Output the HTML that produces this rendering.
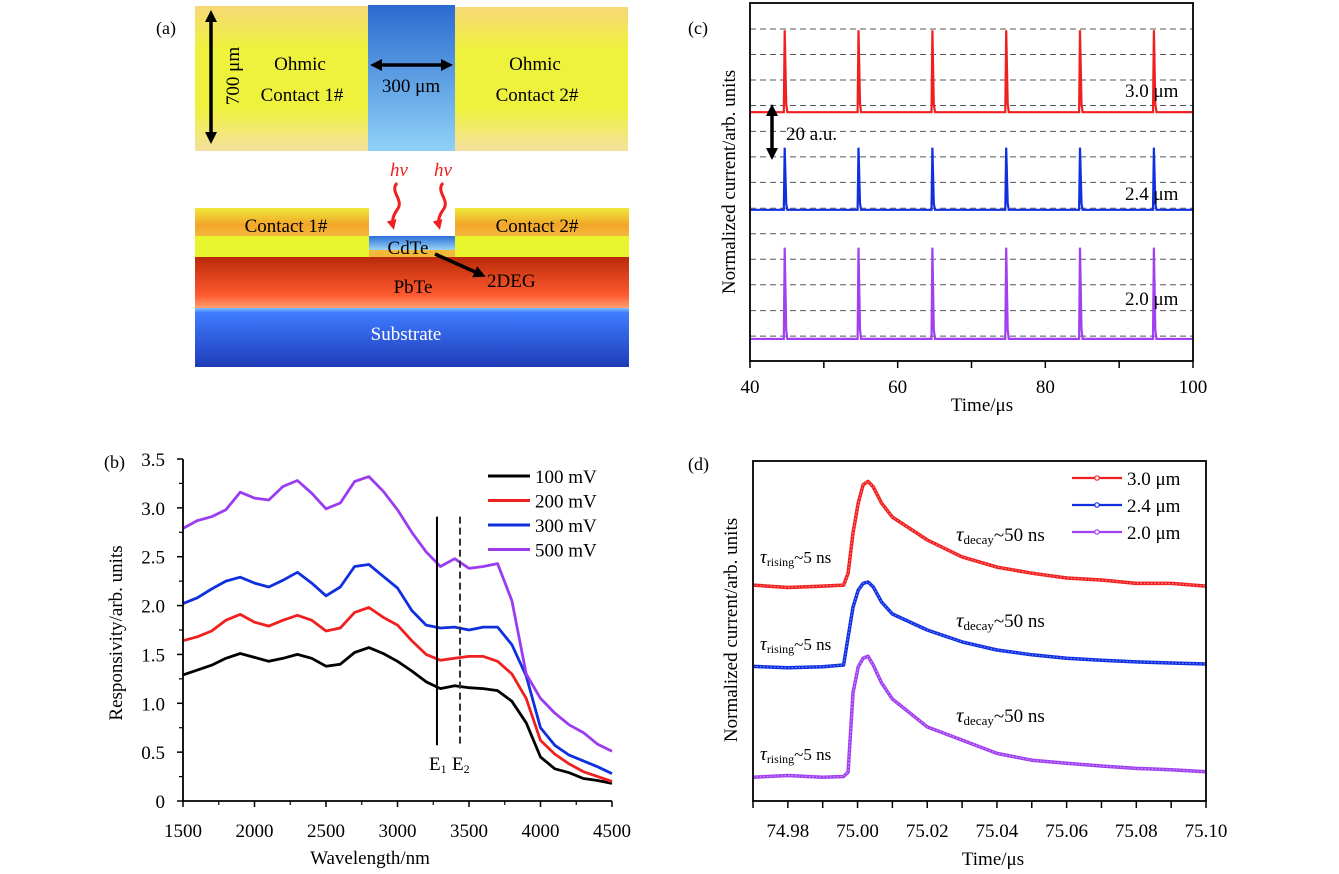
<!DOCTYPE html>
<html><head><meta charset="utf-8"><style>
body{margin:0;background:#fff;}
svg{display:block;font-family:"Liberation Serif",serif;}
</style></head><body>
<svg id="fig" width="1339" height="874" viewBox="0 0 1339 874">
<defs>
<linearGradient id="gY" x1="0" y1="0" x2="0" y2="1"><stop offset="0" stop-color="#f6d878"/><stop offset="0.3" stop-color="#eef23c"/><stop offset="0.7" stop-color="#eef23c"/><stop offset="1" stop-color="#f4e0a0"/></linearGradient>
<linearGradient id="gB" x1="0" y1="0" x2="0" y2="1"><stop offset="0" stop-color="#2a6ad0"/><stop offset="1" stop-color="#90d2f6"/></linearGradient>
<linearGradient id="gC" x1="0" y1="0" x2="0" y2="1"><stop offset="0" stop-color="#eee83a"/><stop offset="0.6" stop-color="#f2a628"/><stop offset="1" stop-color="#f5b840"/></linearGradient>
<linearGradient id="gCd" x1="0" y1="0" x2="0" y2="1"><stop offset="0" stop-color="#2a70d8"/><stop offset="1" stop-color="#9ad4f6"/></linearGradient>
<linearGradient id="gP" x1="0" y1="0" x2="0" y2="1"><stop offset="0" stop-color="#b82a08"/><stop offset="0.75" stop-color="#ff5a30"/><stop offset="1" stop-color="#ffa070"/></linearGradient>
<linearGradient id="gS" x1="0" y1="0" x2="0" y2="1"><stop offset="0" stop-color="#80c0ff"/><stop offset="0.08" stop-color="#3f7cff"/><stop offset="1" stop-color="#1e3cb8"/></linearGradient>
<marker id="ah" markerWidth="12" markerHeight="12" refX="8" refY="6" orient="auto-start-reverse" markerUnits="userSpaceOnUse"><path d="M0,0 L12,6 L0,12 z" fill="#000"/></marker>
<marker id="ahr" markerWidth="10" markerHeight="10" refX="6" refY="5" orient="auto" markerUnits="userSpaceOnUse"><path d="M0,0 L10,5 L0,10 z" fill="#f02020"/></marker>
</defs>

<g font-size="19">
<text x="156" y="34" font-size="18">(a)</text>
<rect x="195" y="6" width="173" height="145" fill="url(#gY)"/>
<rect x="368" y="5" width="87" height="146" fill="url(#gB)"/>
<rect x="455" y="7" width="173" height="144" fill="url(#gY)"/>
<line x1="211" y1="14" x2="211" y2="140" stroke="#000" stroke-width="3.5" marker-start="url(#ah)" marker-end="url(#ah)"/>
<text transform="translate(239,76) rotate(-90)" text-anchor="middle">700 μm</text>
<text x="300" y="70" text-anchor="middle">Ohmic</text>
<text x="302" y="101" text-anchor="middle">Contact 1#</text>
<text x="535" y="70" text-anchor="middle">Ohmic</text>
<text x="537" y="101" text-anchor="middle">Contact 2#</text>
<line x1="374" y1="65" x2="449" y2="65" stroke="#000" stroke-width="3.5" marker-start="url(#ah)" marker-end="url(#ah)"/>
<text x="411" y="92" text-anchor="middle">300 μm</text>

<text x="399" y="176" fill="#f02020" font-style="italic" text-anchor="middle">hv</text>
<text x="443" y="176" fill="#f02020" font-style="italic" text-anchor="middle">hv</text>
<path d="M397,183 C389,192 405,200 397,210 C392,217 392,222 393,226" fill="none" stroke="#f02020" stroke-width="3" marker-end="url(#ahr)"/>
<path d="M443,183 C435,192 451,200 443,210 C438,217 438,222 439,226" fill="none" stroke="#f02020" stroke-width="3" marker-end="url(#ahr)"/>

<rect x="195" y="208" width="174" height="28" fill="url(#gC)"/>
<rect x="455" y="208" width="174" height="28" fill="url(#gC)"/>
<rect x="195" y="236" width="434" height="21" fill="#e8f52c"/>
<rect x="369" y="236" width="86" height="14" fill="url(#gCd)"/>
<rect x="369" y="250" width="86" height="7" fill="#f2b83a"/>
<rect x="195" y="257" width="434" height="51" fill="url(#gP)"/>
<rect x="195" y="308" width="434" height="59" fill="url(#gS)"/>
<text x="286" y="232" text-anchor="middle">Contact 1#</text>
<text x="537" y="232" text-anchor="middle">Contact 2#</text>
<text x="408" y="254" text-anchor="middle">CdTe</text>
<text x="413" y="293" text-anchor="middle">PbTe</text>
<text x="487" y="287">2DEG</text>
<line x1="435" y1="254" x2="482" y2="275" stroke="#000" stroke-width="3.5" marker-end="url(#ah)"/>
<text x="406" y="340" text-anchor="middle" fill="#fff">Substrate</text>
</g>

<g id="pb"></g>
<g id="pc"></g>
<g id="pd"></g>
</svg>
<script>
const bWave=[1500,1600,1700,1800,1900,2000,2100,2200,2300,2400,2500,2600,2700,2800,2900,3000,3100,3200,3300,3400,3500,3600,3700,3800,3900,4000,4100,4200,4300,4400,4500];
const b100=[1.29,1.34,1.39,1.46,1.51,1.47,1.43,1.46,1.50,1.46,1.38,1.40,1.52,1.57,1.51,1.43,1.33,1.22,1.15,1.18,1.16,1.15,1.13,1.02,0.80,0.45,0.33,0.29,0.23,0.21,0.18];
const b200=[1.64,1.68,1.74,1.85,1.91,1.83,1.79,1.85,1.90,1.85,1.74,1.77,1.93,1.98,1.88,1.80,1.64,1.50,1.44,1.46,1.48,1.48,1.43,1.30,1.05,0.62,0.48,0.38,0.30,0.25,0.20];
const b300=[2.02,2.08,2.17,2.25,2.29,2.23,2.19,2.26,2.34,2.23,2.10,2.19,2.40,2.42,2.30,2.18,1.95,1.80,1.77,1.78,1.75,1.78,1.78,1.60,1.28,0.75,0.57,0.47,0.41,0.35,0.28];
const b500=[2.79,2.87,2.91,2.98,3.16,3.10,3.08,3.22,3.28,3.15,2.99,3.05,3.27,3.32,3.17,2.98,2.75,2.55,2.40,2.48,2.38,2.40,2.43,2.05,1.30,1.05,0.90,0.78,0.70,0.58,0.51];
const bLabels=["100 mV","200 mV","300 mV","500 mV"];
const bXTicks=[1500,2000,2500,3000,3500,4000,4500];
const bYTicks=[0,0.5,1.0,1.5,2.0,2.5,3.0,3.5];
const bE=[3276,3437];
const cPeakTimes=[44.7,54.7,64.7,74.7,84.7,94.7];
const cBaselines=[79,48,7];
const cHeights=[26,19.7,29];
const cLabels=["3.0 μm","2.4 μm","2.0 μm"];
const cGrid=[7.9,16.0,24.2,32.3,40.4,48.5,56.7,64.8,72.9,81.1,89.2,97.3,105.4];
const cXTicks=[40,60,80,100];
const dTime=[74.97,74.98,74.99,74.996,74.9973,74.9987,75.0002,75.0016,75.003,75.0045,75.0069,75.01,75.02,75.03,75.04,75.05,75.06,75.07,75.08,75.09,75.10];
const d30=[63.5,62.8,63.2,63.5,67,78.8,87.6,93,94,92.4,87.6,83.5,76.8,71.8,68.8,67,65.6,65,64,64,63.2];
const d24=[39.6,39.2,39.5,40,48.2,57,62,64,64.4,63,58.5,55,50.3,46.8,44.4,43,42,41.4,40.9,40.6,40.3];
const d20=[7,7.5,7,7.2,8.5,31.8,39.4,42,42.6,40,34.7,30,21.8,17.9,14,12,11.1,10.3,9.6,9.2,8.6];
const dLabels=["3.0 μm","2.4 μm","2.0 μm"];
const dXTicks=[74.98,75.00,75.02,75.04,75.06,75.08,75.10];

const FS=19;
const NS="http://www.w3.org/2000/svg";
function mk(parent,tag,attrs,text){const e=document.createElementNS(NS,tag);for(const k in attrs)e.setAttribute(k,attrs[k]);if(text!==undefined)e.textContent=text;parent.appendChild(e);return e;}
function lin(d0,d1,r0,r1){return v=>r0+(v-d0)/(d1-d0)*(r1-r0);}

(function(){
const g=document.getElementById('pb');
const L=183,R=612,T=459,B=801;
const x=lin(1500,4500,L,R), y=lin(0,3.5,B,T);
const cols=["#000000","#f02020","#1030e0","#9b3cf0"];
const ser=[b100,b200,b300,b500];
ser.forEach((s,i)=>{
 let d=s.map((v,j)=>(j?'L':'M')+x(bWave[j]).toFixed(1)+','+y(v).toFixed(1)).join(' ');
 const p=mk(g,'path',{d:d,fill:'none',stroke:cols[i],'stroke-width':2.8,'stroke-linejoin':'round'});
 
 
});
const e1=mk(g,'line',{x1:x(bE[0]),x2:x(bE[0]),y1:y(2.91),y2:y(0.57),stroke:'#000','stroke-width':2});


const e2=mk(g,'line',{x1:x(bE[1]),x2:x(bE[1]),y1:y(2.91),y2:y(0.57),stroke:'#333','stroke-width':2,'stroke-dasharray':'7,4'});


const t1=mk(g,'text',{x:x(bE[0])-8,y:770,'font-size':FS});
t1.innerHTML='E<tspan font-size="12" dy="3">1</tspan>';


const t2=mk(g,'text',{x:x(bE[1])-8,y:770,'font-size':FS});
t2.innerHTML='E<tspan font-size="12" dy="3">2</tspan>';


const ax=mk(g,'path',{d:`M${L},${T} L${L},${B} L${R},${B}`,fill:'none',stroke:'#000','stroke-width':1.8});


bXTicks.forEach(v=>{
 mk(g,'line',{x1:x(v),x2:x(v),y1:B,y2:B+6,stroke:'#000','stroke-width':1.5});
 const t=mk(g,'text',{x:x(v),y:837,'font-size':FS,'text-anchor':'middle'},String(v));
 
 
});
for(let i=0;i<bXTicks.length-1;i++){const v=(bXTicks[i]+bXTicks[i+1])/2;mk(g,'line',{x1:x(v),x2:x(v),y1:B,y2:B+4,stroke:'#000','stroke-width':1.2});}
bYTicks.forEach((v,i)=>{
 mk(g,'line',{x1:L-6,x2:L,y1:y(v),y2:y(v),stroke:'#000','stroke-width':1.5});
 if(i<bYTicks.length-1)mk(g,'line',{x1:L-4,x2:L,y1:y(v+0.25),y2:y(v+0.25),stroke:'#000','stroke-width':1.2});
 const t=mk(g,'text',{x:165,y:y(v)+7,'font-size':FS,'text-anchor':'end'},v===0?'0':v.toFixed(1));
 
 
});
const xt=mk(g,'text',{x:370,y:864,'font-size':FS,'text-anchor':'middle'},'Wavelength/nm');


const yt=mk(g,'text',{transform:'translate(122,633) rotate(-90)','font-size':FS,'text-anchor':'middle'},'Responsivity/arb. units');


const pl=mk(g,'text',{x:104,y:468,'font-size':18},'(b)');


bLabels.forEach((lab,i)=>{
 const yy=476+i*24.5;
 const lg=mk(g,'g',{});
 
 
 mk(lg,'line',{x1:488,x2:530,y1:yy,y2:yy,stroke:cols[i],'stroke-width':3});
 mk(lg,'text',{x:535,y:yy+7,'font-size':FS},lab);
});
})();

(function(){
const g=document.getElementById('pc');
const L=750,R=1193,T=3,B=361;
const x=lin(40,100,L,R), y=lin(0,(B-T)/3.15,B,T);
cGrid.forEach(v=>{
 const l=mk(g,'line',{x1:L,x2:R,y1:y(v),y2:y(v),stroke:'#555','stroke-width':1,'stroke-dasharray':'6,4'});
 
 
});
const cols=["#f02020","#1030e0","#a040f0"];
cBaselines.forEach((b,i)=>{
 let d=`M${x(40)},${y(b)}`;
 cPeakTimes.forEach(t=>{
  d+=` L${x(t-0.12).toFixed(1)},${y(b).toFixed(1)} L${x(t).toFixed(1)},${y(b+cHeights[i]).toFixed(1)} L${x(t+0.2).toFixed(1)},${y(b+cHeights[i]*0.1).toFixed(1)} L${x(t+0.35).toFixed(1)},${y(b).toFixed(1)}`;
 });
 d+=` L${x(100)},${y(b)}`;
 const p=mk(g,'path',{d:d,fill:'none',stroke:cols[i],'stroke-width':2.2});
 
 
 const t=mk(g,'text',{x:1125,y:[97,200,305][i],'font-size':FS},cLabels[i]);
 
 
});
const ar=mk(g,'line',{x1:772,x2:772,y1:108,y2:156,stroke:'#000','stroke-width':3.5,'marker-start':'url(#ah)','marker-end':'url(#ah)'});


const at=mk(g,'text',{x:786,y:140,'font-size':FS},'20 a.u.');


const fr=mk(g,'rect',{x:L,y:T,width:R-L,height:B-T,fill:'none',stroke:'#000','stroke-width':1.8});


for(let v=40;v<=100;v+=10){mk(g,'line',{x1:x(v),x2:x(v),y1:B,y2:B+7,stroke:'#000','stroke-width':1.5});}
cXTicks.forEach(v=>{
 const t=mk(g,'text',{x:x(v),y:393,'font-size':FS,'text-anchor':'middle'},String(v));
 
 
});
const xt=mk(g,'text',{x:982,y:411,'font-size':FS,'text-anchor':'middle'},'Time/μs');


const yt=mk(g,'text',{transform:'translate(735,182) rotate(-90)','font-size':FS,'text-anchor':'middle'},'Normalized current/arb. units');


const pl=mk(g,'text',{x:688,y:34,'font-size':18},'(c)');


})();

(function(){
const g=document.getElementById('pd');
const L=753,R=1206,T=461,B=801;
const x=lin(74.97,75.10,L,R), y=lin(0,100,B,T);
const cols=["#f02020","#1030e0","#a040f0"];
const fills=["#ff9090","#8090ff","#d0a0ff"];
[d30,d24,d20].forEach((s,i)=>{
 const d=s.map((v,j)=>(j?'L':'M')+x(dTime[j]).toFixed(1)+','+y(v).toFixed(1)).join(' ');
 const p=mk(g,'path',{d:d,fill:'none',stroke:cols[i],'stroke-width':3.5,'stroke-linejoin':'round'});
 
 
 mk(g,'path',{d:d,fill:'none',stroke:fills[i],'stroke-width':1,'stroke-dasharray':'1.5,2'});
 const r=mk(g,'text',{x:760,y:[563,650,760][i],'font-size':17});
 r.innerHTML='<tspan font-style="italic" font-size="19">τ</tspan><tspan font-size="12" dy="3">rising</tspan><tspan dy="-3">~5 ns</tspan>';
 
 
 const dc=mk(g,'text',{x:956,y:[541,627,722][i],'font-size':FS});
 dc.innerHTML='<tspan font-style="italic" font-size="21">τ</tspan><tspan font-size="13" dy="3">decay</tspan><tspan dy="-3">~50 ns</tspan>';
 
 
 const lg=mk(g,'g',{});
 
 
 const yy=478+i*27;
 mk(lg,'line',{x1:1072,x2:1122,y1:yy,y2:yy,stroke:cols[i],'stroke-width':2.2});
 mk(lg,'circle',{cx:1097,cy:yy,r:2.2,fill:'#fff',stroke:cols[i],'stroke-width':1.2});
 mk(lg,'text',{x:1127,y:yy+7,'font-size':FS},dLabels[i]);
});
const fr=mk(g,'rect',{x:L,y:T,width:R-L,height:B-T,fill:'none',stroke:'#000','stroke-width':1.8});


for(let k=0;k<=13;k++){const v=74.97+k*0.01;mk(g,'line',{x1:x(v),x2:x(v),y1:B,y2:B+7,stroke:'#000','stroke-width':1.5});}
dXTicks.forEach(v=>{
 const t=mk(g,'text',{x:x(v),y:837,'font-size':FS,'text-anchor':'middle'},v.toFixed(2));
 
 
});
const xt=mk(g,'text',{x:993,y:865,'font-size':FS,'text-anchor':'middle'},'Time/μs');


const yt=mk(g,'text',{transform:'translate(737,630) rotate(-90)','font-size':FS,'text-anchor':'middle'},'Normalized current/arb. units');


const pl=mk(g,'text',{x:688,y:470,'font-size':18},'(d)');


})();
</script>
</body></html>
